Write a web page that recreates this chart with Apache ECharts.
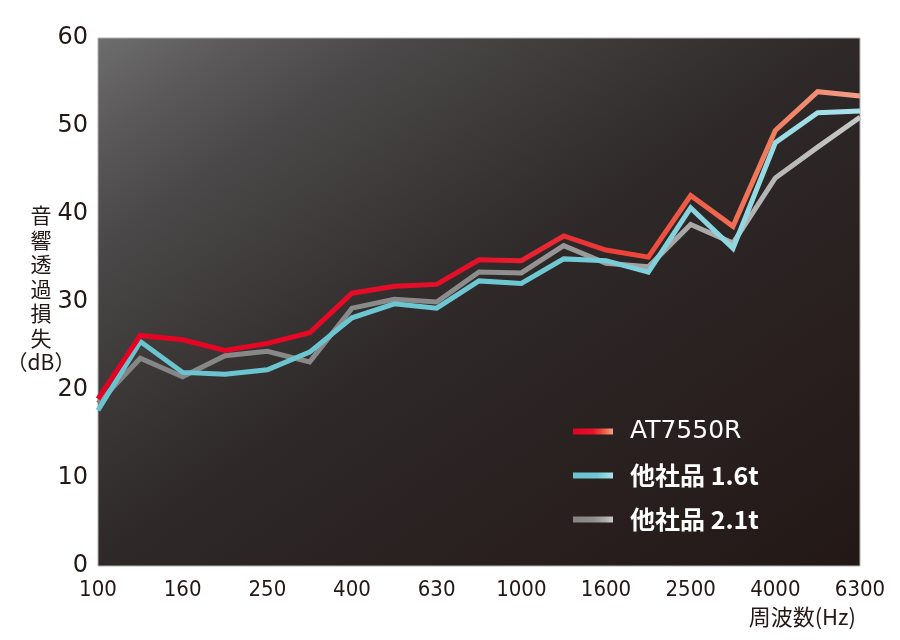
<!DOCTYPE html>
<html>
<head>
<meta charset="utf-8">
<script src="https://cdn.jsdelivr.net/npm/echarts@6/dist/echarts.min.js"></script>
<style>
html,body{margin:0;padding:0;background:#fff;}
#chart{width:900px;height:640px;}
</style>
</head>
<body>
<div id="chart"></div>
<script>
const categories = ['100','125','160','200','250','315','400','500','630','800','1000','1250','1600','2000','2500','3150','4000','5000','6300'];
const seriesNames = ['AT7550R', '他社品 1.6t', '他社品 2.1t'];
const at7550r = [19.0, 26.2, 25.7, 24.5, 25.3, 26.5, 31.0, 31.8, 32.0, 34.8, 34.7, 37.5, 35.9, 35.1, 42.1, 38.6, 49.5, 53.9, 53.4];
const other16 = [17.7, 25.5, 22.0, 21.8, 22.3, 24.3, 28.2, 29.8, 29.3, 32.4, 32.1, 34.9, 34.7, 33.4, 40.7, 36.1, 48.1, 51.5, 51.7];
const other21 = [18.5, 23.6, 21.5, 23.9, 24.4, 23.2, 29.3, 30.3, 30.0, 33.4, 33.3, 36.4, 34.4, 34.0, 38.8, 36.7, 44.1, 47.6, 51.0];
const yTicks = [0, 10, 20, 30, 40, 50, 60];

const chart = echarts.init(document.getElementById('chart'), null, {renderer: 'canvas'});

function grad(stops) {
  return {type: 'linear', x: 0, y: 0, x2: 1, y2: 0,
    colorStops: stops.map(s => ({offset: s[0], color: s[1]}))};
}
const redGrad = grad([[0, '#e60021'], [0.5, '#e6102a'], [0.72, '#ee4a3c'], [0.87, '#f07a5c'], [1, '#f3a08a']]);
const cyanGrad = grad([[0, '#6ac4cf'], [0.6, '#6ec8d3'], [0.85, '#92d8e2'], [1, '#aee2ea']]);
const grayGrad = grad([[0, '#858585'], [0.5, '#8c8c8c'], [0.8, '#aaaaaa'], [1, '#c8c8c8']]);

const labelFont = '"Liberation Sans Narrow", "DejaVu Sans Condensed", "Roboto", sans-serif';
const cjkFont = '"Noto Sans CJK JP", "Noto Sans", sans-serif';

function lineSeries(name, data, color, z) {
  return {
    name: name, type: 'line', data: data, symbol: 'none', smooth: false, z: z,
    lineStyle: {width: 5, color: color, join: 'miter'},
    itemStyle: {color: color},
    emphasis: {disabled: true}
  };
}

chart.setOption({
  animation: false,
  backgroundColor: '#ffffff',
  grid: {
    left: 98, right: 40, top: 38, bottom: 74,
    show: true,
    borderColor: '#b0b0b0', borderWidth: 1,
    backgroundColor: {
      type: 'linear', global: true, x: 98, y: 38, x2: 590, y2: 751,
      colorStops: [
        {offset: 0, color: '#6e6d6e'},
        {offset: 0.1, color: '#5a5858'},
        {offset: 0.2, color: '#4a4848'},
        {offset: 0.5, color: '#2e2828'},
        {offset: 1, color: '#231816'}
      ]
    }
  },
  legend: {
    orient: 'vertical', left: 568, top: 414,
    icon: 'rect', itemWidth: 40, itemHeight: 6, itemGap: 19,
    textStyle: {color: '#ffffff', fontSize: 25, fontFamily: cjkFont, padding: [0, 0, 0, 12]},
    data: [
      {name: seriesNames[0], textStyle: {fontWeight: 'normal', fontSize: 25, fontFamily: '"DejaVu Sans", sans-serif'}},
      {name: seriesNames[1], textStyle: {fontWeight: 'bold'}},
      {name: seriesNames[2], textStyle: {fontWeight: 'bold'}}
    ],
    selectedMode: false
  },
  xAxis: {
    type: 'category', data: categories, boundaryGap: false,
    axisLine: {show: false}, axisTick: {show: false}, splitLine: {show: false},
    axisLabel: {interval: 1, color: '#231815', fontSize: 22, fontFamily: labelFont, margin: 13}
  },
  yAxis: {
    type: 'value', min: yTicks[0], max: yTicks[yTicks.length - 1], interval: 10,
    axisLine: {show: false}, axisTick: {show: false}, splitLine: {show: false},
    axisLabel: {color: '#231815', fontSize: 24, fontFamily: '"DejaVu Sans", sans-serif', margin: 10}
  },
  graphic: [
    {type: 'text', x: 41, y: 203, z: 10,
      style: {text: '音\n響\n透\n過\n損\n失\n（dB）', fill: '#231815', fontSize: 21, lineHeight: 24.5,
        fontFamily: cjkFont, align: 'center', verticalAlign: 'top'}},
    {type: 'text', right: 44, top: 606, z: 10,
      style: {text: '周波数(Hz)', fill: '#231815', fontSize: 22, fontFamily: cjkFont}}
  ],
  series: [
    lineSeries(seriesNames[2], other21, grayGrad, 2),
    lineSeries(seriesNames[1], other16, cyanGrad, 3),
    lineSeries(seriesNames[0], at7550r, redGrad, 4)
  ]
});
</script>
</body>
</html>
